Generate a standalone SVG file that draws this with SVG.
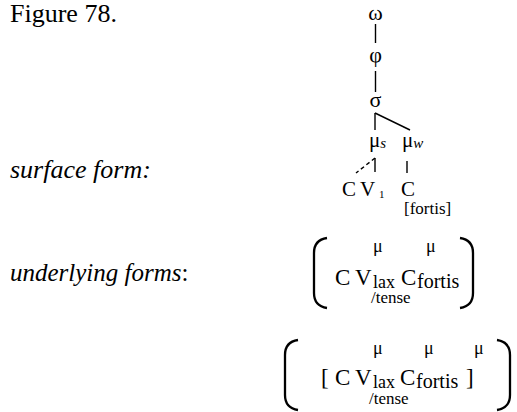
<svg xmlns="http://www.w3.org/2000/svg" width="517" height="412" viewBox="0 0 517 412">
<style>
text{font-family:"Liberation Serif","Times New Roman",serif;fill:#000}
.lbl{font-size:26px}
.it{font-style:italic}
.gr{font-size:22px}
.mut{font-size:21px}
.big{font-size:23px}
.sub{font-size:18px}
.sub2{font-size:20px}
.mu{font-size:18px}
.ten{font-size:17px}
.sm{font-size:15px}
line,path{stroke:#000;stroke-width:1.4;fill:none}
.par{stroke-width:2.3}
.dash{stroke-dasharray:4 3}
</style>
<rect width="517" height="412" fill="#fff"/>
<text class="lbl" x="10" y="22">Figure 78.</text>
<text class="lbl it" x="10" y="178">surface form:</text>
<text x="10" y="281" font-size="25"><tspan class="it">underlying forms</tspan>:</text>

<g id="connectors">
<line x1="375.5" y1="24" x2="375.5" y2="43"/>
<line x1="375.5" y1="71" x2="375.5" y2="92"/>
<line x1="375" y1="113" x2="375" y2="130"/>
<line x1="375" y1="113" x2="410" y2="130"/>
<line x1="375" y1="158" x2="375" y2="172"/>
<line class="dash" x1="375" y1="158" x2="356" y2="173"/>
<line x1="407" y1="161" x2="407" y2="173"/>
</g>

<g id="omega"><text class="gr" x="375.5" y="20" text-anchor="middle">ω</text></g>
<g id="phi"><text class="gr" x="375.5" y="62" text-anchor="middle">φ</text></g>
<g id="sigma"><text class="gr" x="375.5" y="107" text-anchor="middle">σ</text></g>
<g id="mu-s"><text class="mut" x="369" y="147">μ<tspan class="it sm" dy="1">s</tspan></text></g>
<g id="mu-w"><text class="mut" x="402" y="147">μ<tspan class="it sm" dy="1">w</tspan></text></g>
<g id="surface">
<text class="mut" x="342" y="196">C</text>
<text class="mut" x="360" y="196">V</text>
<text x="379" y="198" font-size="11">1</text>
<text class="mut" x="401" y="196">C</text>
<text x="404" y="214" font-size="17">[fortis]</text>
</g>

<g id="underlying-1">
<path class="par" d="M327,238 Q314,240 314,253 L314,293 Q314,306 327,308"/>
<path class="par" d="M460,238 Q473,240 473,253 L473,293 Q473,306 460,308"/>
<text class="mu" x="373" y="252">μ</text>
<text class="mu" x="426" y="252">μ</text>
<text class="big" x="335" y="285">C</text>
<text class="big" x="355" y="285">V</text>
<text class="sub" x="373" y="288">lax<tspan class="ten" x="371" y="303">/tense</tspan></text>
<text class="big" x="401" y="285">C</text>
<text class="sub2" x="417" y="288">fortis</text>
</g>

<g id="underlying-2">
<path class="par" d="M298,340 Q285,342 285,355 L285,395 Q285,408 298,410"/>
<path class="par" d="M497,340 Q510,342 510,355 L510,395 Q510,408 497,410"/>
<text class="mu" x="373" y="354">μ</text>
<text class="mu" x="424" y="354">μ</text>
<text class="mu" x="474" y="354">μ</text>
<text class="big" x="321" y="385">[</text>
<text class="big" x="335" y="385">C</text>
<text class="big" x="355" y="385">V</text>
<text class="sub" x="373" y="388">lax<tspan class="ten" x="369" y="404">/tense</tspan></text>
<text class="big" x="400" y="385">C</text>
<text class="sub2" x="416" y="388">fortis</text>
<text class="big" x="466" y="385">]</text>
</g>
</svg>
